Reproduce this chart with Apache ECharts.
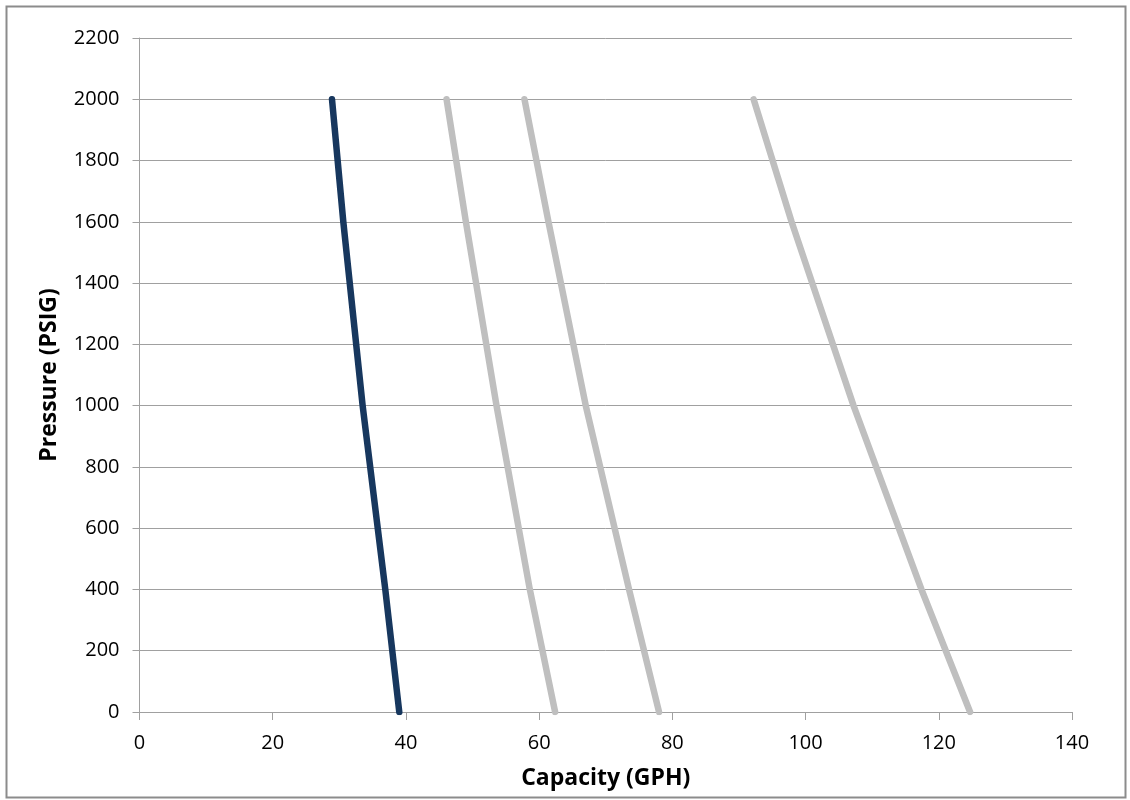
<!DOCTYPE html>
<html>
<head>
<meta charset="utf-8">
<script src="https://cdn.jsdelivr.net/npm/echarts@6/dist/echarts.min.js"></script>
<style>
html,body{margin:0;padding:0;background:#fff;}
#c{width:1130px;height:800px;}
</style>
</head>
<body>
<div id="c"></div>
<script>
const pressures = [0, 400, 1000, 1600, 2000];
const capacityDark = [39.0, 36.9, 33.5, 30.6, 28.9];
const capacityGray1 = [62.4, 58.6, 53.6, 49.0, 46.1];
const capacityGray2 = [78.0, 73.5, 67.0, 61.4, 57.8];
const capacityGray3 = [124.7, 117.4, 107.2, 97.9, 92.2];
const xTitle = 'Capacity (GPH)';
const yTitle = 'Pressure (PSIG)';

function pairs(caps){ return caps.map((c,i)=>[c, pressures[i]]); }

const chart = echarts.init(document.getElementById('c'));
const font = 'Open Sans';
function mk(name, caps, color){
  return {
    name: name, type:'line', data: pairs(caps), showSymbol:false, symbol:'none',
    lineStyle:{color:color, width:6.5, cap:'round', join:'round'}, animation:false
  };
}
chart.setOption({
  animation:false,
  backgroundColor:'#fff',
  graphic:[{type:'rect', shape:{x:6.5,y:6.5,width:1119,height:791}, style:{fill:'none', stroke:'#8c8c8c', lineWidth:2}, silent:true}],
  grid:{left:139.5, right:58, top:38, bottom:88},
  xAxis:{
    type:'value', min:0, max:140, interval:20,
    name:xTitle, nameLocation:'middle', nameGap:55,
    nameTextStyle:{fontFamily:font, fontSize:23, fontWeight:'bold', color:'#000'},
    axisLine:{show:true, lineStyle:{color:'#a0a0a0', width:1}},
    axisTick:{show:true, length:8, lineStyle:{color:'#a0a0a0'}},
    axisLabel:{fontFamily:font, fontSize:20, color:'#000', margin:21},
    splitLine:{show:false}
  },
  yAxis:{
    type:'value', min:0, max:2200, interval:200,
    name:yTitle, nameLocation:'middle', nameGap:79, nameRotate:90,
    nameTextStyle:{fontFamily:font, fontSize:23, fontWeight:'bold', color:'#000'},
    axisLine:{show:true, lineStyle:{color:'#a0a0a0', width:1}},
    axisTick:{show:true, length:7, lineStyle:{color:'#a0a0a0'}},
    axisLabel:{fontFamily:font, fontSize:20, color:'#000', margin:20, formatter:(v)=>String(v)},
    splitLine:{show:true, lineStyle:{color:'#a0a0a0', width:1}}
  },
  series:[
    mk('Gray 1', capacityGray1, '#bfbfbf'),
    mk('Gray 2', capacityGray2, '#bfbfbf'),
    mk('Gray 3', capacityGray3, '#bfbfbf'),
    mk('Model', capacityDark, '#17375e')
  ]
});
</script>
</body>
</html>
